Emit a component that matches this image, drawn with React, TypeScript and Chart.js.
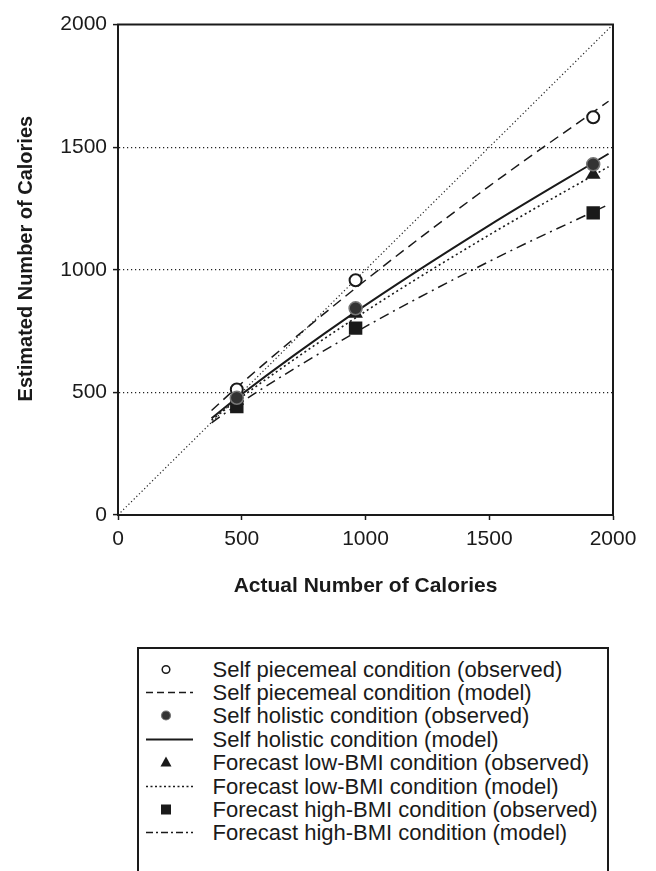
import React, { useEffect, useRef } from "react";
import { Chart, registerables } from "chart.js";

Chart.register(...registerables);

// Observed values (x = actual calories)
const actualCalories = [480, 960, 1920];
const selfPiecemealObserved = [512, 957, 1622];
const selfHolisticObserved = [478, 843, 1430];
const lowBmiObserved = [467, 822, 1388];
const highBmiObserved = [442, 762, 1232];

// Model curves
const modelX = [378, 480, 960, 1500, 1982];
const selfPiecemealModel = [426, 520, 925, 1341, 1687];
const selfHolisticModel = [394, 477, 828, 1181, 1473];
const lowBmiModel = [387, 467, 804, 1142, 1420];
const highBmiModel = [376, 448, 745, 1034, 1266];

// Identity line
const identityX = [0, 2000];
const identityY = [0, 2000];

const tickValues = [0, 500, 1000, 1500, 2000];

const FONT = "'Liberation Sans', Arial, Helvetica, sans-serif";
const INK = "#1a1a1a";

const legendItems = [
  { label: "Self piecemeal condition (observed)", kind: "openCircle" },
  { label: "Self piecemeal condition (model)", kind: "dash" },
  { label: "Self holistic condition (observed)", kind: "greyCircle" },
  { label: "Self holistic condition (model)", kind: "solid" },
  { label: "Forecast low-BMI condition (observed)", kind: "triangle" },
  { label: "Forecast low-BMI condition (model)", kind: "dot" },
  { label: "Forecast high-BMI condition (observed)", kind: "square" },
  { label: "Forecast high-BMI condition (model)", kind: "dashDot" },
];

function pts(xs: number[], ys: number[]) {
  return xs.map((x, i) => ({ x, y: ys[i] }));
}

const framePlugin = {
  id: "frame",
  beforeDatasetsDraw(chart: any) {
    const { ctx, chartArea } = chart;
    ctx.save();
    ctx.strokeStyle = INK;
    ctx.lineWidth = 2;
    ctx.strokeRect(chartArea.left, chartArea.top, chartArea.right - chartArea.left, chartArea.bottom - chartArea.top);
    ctx.restore();
  },
};

function Swatch({ kind }: { kind: string }) {
  const cx = 20;
  const cy = 11.5;
  let el: any = null;
  if (kind === "openCircle") el = <circle cx={cx} cy={cy} r={3.8} fill="#fff" stroke={INK} strokeWidth={1.5} />;
  else if (kind === "greyCircle") el = <circle cx={cx} cy={cy} r={4.5} fill="#333" stroke="#777" strokeWidth={1.2} />;
  else if (kind === "triangle") el = <polygon points={`${cx},${cy - 6} ${cx + 5.5},${cy + 4} ${cx - 5.5},${cy + 4}`} fill={INK} />;
  else if (kind === "square") el = <rect x={cx - 5} y={cy - 5} width={10} height={10} fill={INK} />;
  else {
    const dash =
      kind === "dash" ? "7,4" : kind === "dot" ? "2,2.5" : kind === "dashDot" ? "7,3,2,3" : undefined;
    el = <line x1={0} y1={cy} x2={47} y2={cy} stroke={INK} strokeWidth={kind === "solid" ? 1.8 : 1.3} strokeDasharray={dash} />;
  }
  return (
    <svg width={62} height={23} style={{ display: "block", flex: "none" }}>
      {el}
    </svg>
  );
}

export default function App() {
  const canvasRef = useRef<HTMLCanvasElement | null>(null);

  useEffect(() => {
    if (!canvasRef.current) return;
    const lineDs = (label: string, ys: number[], dash: number[], width: number) => ({
      label,
      data: pts(modelX, ys),
      showLine: true,
      borderColor: INK,
      borderWidth: width,
      borderDash: dash,
      pointRadius: 0,
      tension: 0.4,
      cubicInterpolationMode: "monotone" as const,
      fill: false,
      order: 2,
    });
    const tickCb = (v: any) => String(v);
    const chart = new Chart(canvasRef.current, {
      type: "scatter",
      data: {
        datasets: [
          {
            label: "Identity",
            data: pts(identityX, identityY),
            showLine: true,
            borderColor: "#222",
            borderWidth: 1.2,
            borderDash: [1.2, 2.5],
            pointRadius: 0,
            order: 3,
          },
          lineDs("Self piecemeal condition (model)", selfPiecemealModel, [10, 6], 1.5),
          lineDs("Self holistic condition (model)", selfHolisticModel, [], 2),
          lineDs("Forecast low-BMI condition (model)", lowBmiModel, [2, 3], 1.6),
          lineDs("Forecast high-BMI condition (model)", highBmiModel, [10, 5, 2, 5], 1.5),
          {
            label: "Self piecemeal condition (observed)",
            data: pts(actualCalories, selfPiecemealObserved),
            pointStyle: "circle",
            pointRadius: 6,
            backgroundColor: "#fff",
            borderColor: INK,
            borderWidth: 2,
            order: 1,
          },
          {
            label: "Forecast high-BMI condition (observed)",
            data: pts(actualCalories, highBmiObserved),
            pointStyle: "rect",
            pointRadius: 9.5,
            backgroundColor: INK,
            borderColor: INK,
            borderWidth: 0,
            order: 1,
          },
          {
            label: "Forecast low-BMI condition (observed)",
            data: pts(actualCalories, lowBmiObserved),
            pointStyle: "triangle",
            pointRadius: 8.5,
            backgroundColor: INK,
            borderColor: INK,
            borderWidth: 0,
            order: 1,
          },
          {
            label: "Self holistic condition (observed)",
            data: pts(actualCalories, selfHolisticObserved),
            pointStyle: "circle",
            pointRadius: 6.5,
            backgroundColor: "#333",
            borderColor: "#777",
            borderWidth: 1.5,
            order: 0,
          },
        ],
      },
      options: {
        responsive: false,
        animation: false,
        events: [],
        layout: { padding: { left: 0, right: 35, top: 12, bottom: 0 } },
        plugins: { legend: { display: false }, tooltip: { enabled: false } },
        scales: {
          x: {
            type: "linear",
            min: 0,
            max: 2000,
            afterBuildTicks: (s: any) => {
              s.ticks = tickValues.map((v) => ({ value: v }));
            },
            afterFit: (s: any) => {
              s.height = 103;
            },
            ticks: {
              color: INK,
              padding: 9,
              maxRotation: 0,
              callback: tickCb,
              font: { family: FONT, size: 21, lineHeight: 1 },
            },
            grid: {
              display: true,
              drawOnChartArea: false,
              drawTicks: true,
              tickLength: 5,
              tickColor: INK,
              tickWidth: 1.5,
            },
            border: { display: true, color: INK, width: 2 },
            title: {
              display: true,
              text: "Actual Number of Calories",
              color: INK,
              font: { family: FONT, size: 21, weight: "bold", lineHeight: 1.2 },
              padding: { top: 0, bottom: 19 },
            },
          },
          y: {
            type: "linear",
            min: 0,
            max: 2000,
            afterBuildTicks: (s: any) => {
              s.ticks = tickValues.map((v) => ({ value: v }));
            },
            afterFit: (s: any) => {
              s.width = 110;
            },
            ticks: {
              color: INK,
              padding: 6,
              callback: tickCb,
              font: { family: FONT, size: 21, lineHeight: 1 },
            },
            grid: {
              display: true,
              drawOnChartArea: true,
              drawTicks: true,
              tickLength: 5,
              tickColor: INK,
              tickWidth: 1.5,
              lineWidth: 1.2,
              color: (ctx: any) =>
                ctx.tick && (ctx.tick.value === 0 || ctx.tick.value === 2000) ? "rgba(0,0,0,0)" : "#222",
            },
            border: { display: true, color: INK, width: 2, dash: [1.2, 2.8] },
            title: {
              display: true,
              text: "    Estimated Number of Calories",
              color: INK,
              font: { family: FONT, size: 20, weight: "bold", lineHeight: 1.2 },
              padding: { top: 6, bottom: 0 },
            },
          },
        },
      },
      plugins: [framePlugin],
    });
    return () => chart.destroy();
  }, []);

  return (
    <div style={{ position: "relative", width: 640, height: 863, fontFamily: FONT }}>
      <canvas ref={canvasRef} width={640} height={610} style={{ display: "block", position: "absolute", left: 0, top: 0 }} />
      <div
        style={{
          position: "absolute",
          left: 129,
          top: 639,
          width: 472,
          height: 240,
          border: `2.5px solid ${INK}`,
          boxSizing: "border-box",
          paddingTop: 8.5,
          background: "#fff",
        }}
      >
        {legendItems.map((it) => (
          <div key={it.label} style={{ display: "flex", alignItems: "center", height: 23.4 }}>
            <div style={{ marginLeft: 6.5 }}>
              <Swatch kind={it.kind} />
            </div>
            <span style={{ marginLeft: 5, fontSize: 22, color: INK, whiteSpace: "nowrap", lineHeight: "23px" }}>
              {it.label}
            </span>
          </div>
        ))}
      </div>
    </div>
  );
}
